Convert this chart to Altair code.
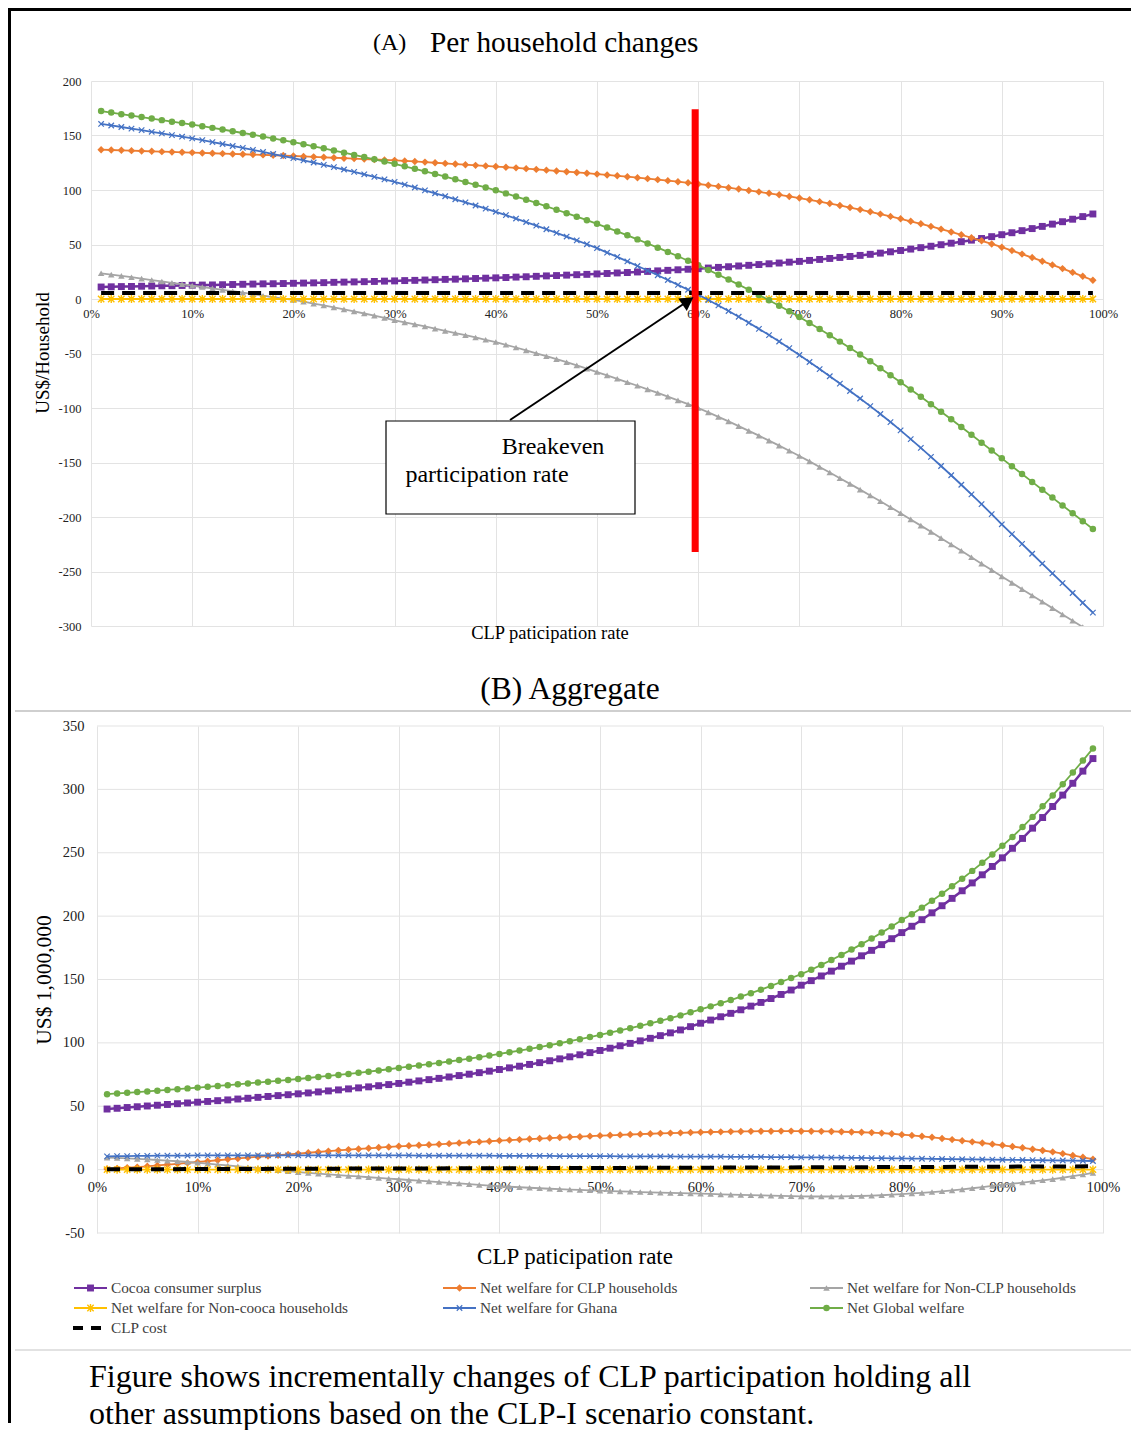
import altair as alt
import pandas as pd

SERIF = "Liberation Serif"

SERIES = [
    "Cocoa consumer surplus",
    "Net welfare for CLP households",
    "Net welfare for Non-CLP households",
    "Net welfare for Non-cooca households",
    "Net welfare for Ghana",
    "Net Global welfare",
    "CLP cost",
]
COLORS = ["#7030A0", "#ED7D31", "#A5A5A5", "#FFC000", "#4472C4", "#70AD47", "#000000"]

rates = list(range(1, 100))
x_ticks = list(range(0, 101, 10))
a_yticks = list(range(-300, 201, 50))
b_yticks = list(range(-50, 351, 50))

# ---------------- (A) Per household changes, US$/household ----------------
a_cocoa = [
    11.0, 11.2, 11.4, 11.5, 11.7, 11.9, 12.1, 12.2, 12.4, 12.6,
    12.8, 12.9, 13.1, 13.3, 13.5, 13.7, 13.9, 14.0, 14.2, 14.4,
    14.6, 14.8, 15.0, 15.3, 15.5, 15.7, 15.9, 16.1, 16.4, 16.6,
    16.9, 17.1, 17.4, 17.7, 18.0, 18.2, 18.5, 18.8, 19.1, 19.4,
    19.7, 20.1, 20.4, 20.8, 21.2, 21.5, 21.9, 22.3, 22.6, 23.0,
    23.4, 23.9, 24.3, 24.8, 25.3, 25.8, 26.3, 26.8, 27.3, 27.8,
    28.4, 29.0, 29.6, 30.3, 30.9, 31.6, 32.3, 33.0, 33.8, 34.5,
    35.4, 36.3, 37.2, 38.1, 39.0, 40.0, 41.0, 42.1, 43.3, 44.5,
    45.8, 47.1, 48.4, 49.8, 51.2, 52.6, 54.0, 55.5, 57.2, 59.0,
    60.8, 62.7, 64.6, 66.6, 68.7, 70.9, 73.2, 75.6, 78.0]
a_clp = [
    137.0, 136.7, 136.4, 136.1, 135.8, 135.5, 135.2, 134.9, 134.6, 134.3,
    134.0, 133.7, 133.4, 133.1, 132.8, 132.5, 132.2, 131.9, 131.6, 131.2,
    130.8, 130.4, 130.0, 129.6, 129.2, 128.8, 128.4, 128.0, 127.6, 127.2,
    126.7, 126.2, 125.6, 125.0, 124.4, 123.8, 123.2, 122.6, 122.1, 121.5,
    120.9, 120.3, 119.6, 118.9, 118.2, 117.5, 116.8, 116.1, 115.4, 114.6,
    113.8, 113.0, 112.2, 111.3, 110.4, 109.5, 108.6, 107.6, 106.6, 105.5,
    104.4, 103.3, 102.1, 100.9, 99.6, 98.3, 97.0, 95.6, 94.1, 92.6,
    91.0, 89.3, 87.6, 85.8, 83.9, 82.0, 80.0, 77.9, 75.8, 73.6,
    71.3, 69.0, 66.6, 64.1, 61.5, 58.9, 56.2, 53.4, 50.5, 47.5,
    44.4, 41.2, 38.0, 34.7, 31.3, 27.9, 24.4, 20.8, 17.2]
a_nonclp = [
    23.6, 22.4, 21.2, 20.0, 18.7, 17.4, 16.1, 14.8, 13.6, 12.3,
    11.0, 9.7, 8.4, 7.1, 5.8, 4.4, 3.0, 1.6, 0.3, -0.9,
    -2.5, -4.2, -5.9, -7.7, -9.5, -11.4, -13.3, -15.3, -17.4, -19.5,
    -21.4, -23.3, -25.2, -27.2, -29.2, -31.2, -33.2, -35.3, -37.4, -39.5,
    -42.0, -44.5, -47.1, -49.8, -52.5, -55.2, -58.0, -60.9, -63.9, -67.0,
    -70.1, -73.2, -76.4, -79.6, -82.9, -86.2, -89.6, -93.0, -96.5, -100.0,
    -104.0, -108.1, -112.3, -116.6, -121.0, -125.4, -129.9, -134.5, -139.2, -144.0,
    -149.0, -154.1, -159.2, -164.4, -169.6, -174.9, -180.2, -185.6, -191.0, -196.5,
    -202.2, -207.9, -213.6, -219.4, -225.2, -231.0, -236.9, -242.8, -248.7, -254.6,
    -260.4, -266.2, -272.0, -277.8, -283.6, -289.4, -295.2, -301.0, -306.8]
a_noncocoa = [
    0, 0, 0, 0, 0, 0, 0, 0, 0, 0,
    0, 0, 0, 0, 0, 0, 0, 0, 0, 0,
    0, 0, 0, 0, 0, 0, 0, 0, 0, 0,
    0, 0, 0, 0, 0, 0, 0, 0, 0, 0,
    0, 0, 0, 0, 0, 0, 0, 0, 0, 0,
    0, 0, 0, 0, 0, 0, 0, 0, 0, 0,
    0, 0, 0, 0, 0, 0, 0, 0, 0, 0,
    0, 0, 0, 0, 0, 0, 0, 0, 0, 0,
    0, 0, 0, 0, 0, 0, 0, 0, 0, 0,
    0, 0, 0, 0, 0, 0, 0, 0, 0]
a_ghana = [
    160.6, 159.2, 157.8, 156.3, 154.9, 153.4, 151.9, 150.4, 148.9, 147.4,
    145.7, 144.0, 142.2, 140.4, 138.6, 136.8, 134.9, 133.0, 131.1, 129.2,
    127.2, 125.2, 123.1, 121.0, 118.8, 116.6, 114.4, 112.1, 109.8, 107.5,
    104.9, 102.3, 99.7, 97.0, 94.3, 91.5, 88.7, 85.8, 82.9, 80.0,
    76.9, 73.8, 70.6, 67.3, 64.0, 60.7, 57.3, 53.8, 50.2, 46.6,
    42.6, 38.6, 34.5, 30.3, 26.1, 21.8, 17.4, 13.0, 8.5, 4.0,
    -0.9, -5.9, -11.0, -16.3, -21.8, -27.4, -33.1, -39.0, -45.1, -51.4,
    -57.8, -64.3, -70.9, -77.6, -84.4, -91.3, -98.3, -105.5, -112.9, -120.5,
    -128.5, -136.6, -144.8, -153.2, -161.7, -170.4, -179.2, -188.2, -197.4, -206.7,
    -215.7, -224.7, -233.7, -242.7, -251.7, -260.7, -269.7, -278.7, -287.7]
a_global = [
    172.4, 171.0, 169.6, 168.3, 166.9, 165.5, 164.1, 162.7, 161.4, 160.0,
    158.5, 157.0, 155.5, 153.9, 152.3, 150.7, 149.0, 147.3, 145.6, 143.9,
    142.0, 140.1, 138.2, 136.2, 134.2, 132.2, 130.2, 128.2, 126.1, 124.0,
    121.7, 119.4, 117.1, 114.7, 112.3, 109.8, 107.3, 104.8, 102.3, 99.7,
    96.9, 94.0, 91.1, 88.1, 85.0, 81.9, 78.7, 75.5, 72.3, 69.0,
    65.5, 62.0, 58.4, 54.7, 50.9, 47.1, 43.2, 39.2, 35.1, 31.0,
    26.7, 22.3, 17.8, 13.2, 8.5, 3.7, -1.2, -6.2, -11.3, -16.5,
    -22.0, -27.6, -33.3, -39.1, -45.0, -51.0, -57.2, -63.5, -69.9, -76.4,
    -83.0, -89.7, -96.5, -103.4, -110.4, -117.5, -124.6, -131.8, -139.0, -146.2,
    -153.4, -160.6, -167.8, -175.0, -182.2, -189.4, -196.6, -203.8, -211.0]
a_cost_rates = [1, 99]
a_cost = [5.5, 5.5]

breakeven_rate = [59.7]
breakeven_top = [174]
breakeven_bottom = [-232]

# ---------------- (B) Aggregate, US$ 1,000,000 ----------------
b_cocoa = [
    47.8, 48.4, 49.0, 49.6, 50.2, 50.8, 51.4, 52.0, 52.6, 53.2,
    53.8, 54.4, 55.0, 55.7, 56.3, 57.0, 57.7, 58.4, 59.1, 59.8,
    60.5, 61.3, 62.1, 62.9, 63.7, 64.5, 65.3, 66.2, 67.1, 68.0,
    69.0, 70.0, 71.0, 72.0, 73.1, 74.2, 75.3, 76.5, 77.7, 79.0,
    80.3, 81.6, 83.0, 84.4, 85.9, 87.4, 89.0, 90.6, 92.3, 94.0,
    95.8, 97.7, 99.6, 101.6, 103.6, 105.7, 107.9, 110.2, 112.8, 115.5,
    118.0, 120.6, 123.3, 126.1, 129.0, 131.9, 135.0, 138.2, 141.7, 145.5,
    149.1, 152.8, 156.6, 160.5, 164.5, 168.7, 173.0, 177.5, 182.2, 187.0,
    192.0, 197.2, 202.6, 208.2, 214.0, 220.0, 226.2, 232.6, 239.2, 246.0,
    253.5, 261.3, 269.4, 277.8, 286.5, 295.5, 304.8, 314.4, 324.3]
b_clp = [
    0.5, 1.0, 1.5, 2.0, 2.6, 3.3, 4.0, 4.6, 5.3, 6.0,
    6.7, 7.4, 8.1, 8.8, 9.5, 10.1, 10.7, 11.4, 12.0, 12.6,
    13.3, 13.9, 14.6, 15.2, 15.8, 16.3, 16.8, 17.4, 17.9, 18.4,
    18.8, 19.2, 19.6, 20.0, 20.5, 21.0, 21.5, 21.9, 22.4, 22.9,
    23.3, 23.7, 24.1, 24.5, 24.9, 25.3, 25.7, 26.0, 26.4, 26.8,
    27.1, 27.4, 27.7, 28.0, 28.3, 28.6, 28.8, 29.0, 29.3, 29.5,
    29.7, 29.8, 30.0, 30.1, 30.2, 30.3, 30.3, 30.4, 30.4, 30.3,
    30.3, 30.2, 30.1, 29.9, 29.7, 29.5, 29.2, 28.8, 28.3, 27.6,
    27.0, 26.3, 25.5, 24.6, 23.7, 22.8, 21.9, 21.0, 20.1, 19.2,
    18.2, 17.2, 16.1, 15.1, 14.0, 12.6, 11.2, 9.7, 8.2]
b_nonclp = [
    9.5, 9.2, 8.9, 8.5, 8.1, 7.6, 7.1, 6.6, 6.0, 5.4,
    4.7, 4.0, 3.3, 2.6, 1.9, 1.2, 0.4, -0.4, -1.2, -2.0,
    -2.6, -3.2, -3.8, -4.3, -4.9, -5.4, -6.0, -6.5, -7.1, -7.6,
    -8.2, -8.7, -9.3, -9.8, -10.4, -10.9, -11.4, -12.0, -12.6, -13.1,
    -13.5, -13.9, -14.3, -14.7, -15.1, -15.4, -15.7, -16.0, -16.3, -16.6,
    -16.9, -17.2, -17.4, -17.7, -17.9, -18.2, -18.4, -18.6, -18.8, -19.0,
    -19.2, -19.5, -19.7, -19.9, -20.1, -20.3, -20.5, -20.7, -20.9, -21.1,
    -21.2, -21.2, -21.2, -21.1, -21.0, -20.8, -20.5, -20.2, -19.8, -19.3,
    -18.8, -18.3, -17.7, -17.1, -16.4, -15.6, -14.7, -13.8, -12.9, -12.0,
    -11.1, -10.2, -9.3, -8.4, -7.5, -6.4, -5.2, -3.9, -2.6]
b_noncocoa = [
    0, 0, 0, 0, 0, 0, 0, 0, 0, 0,
    0, 0, 0, 0, 0, 0, 0, 0, 0, 0,
    0, 0, 0, 0, 0, 0, 0, 0, 0, 0,
    0, 0, 0, 0, 0, 0, 0, 0, 0, 0,
    0, 0, 0, 0, 0, 0, 0, 0, 0, 0,
    0, 0, 0, 0, 0, 0, 0, 0, 0, 0,
    0, 0, 0, 0, 0, 0, 0, 0, 0, 0,
    0, 0, 0, 0, 0, 0, 0, 0, 0, 0,
    0, 0, 0, 0, 0, 0, 0, 0, 0, 0,
    0, 0, 0, 0, 0, 0, 0, 0, 0]
b_ghana = [
    10.5, 10.6, 10.7, 10.8, 10.9, 11.0, 11.0, 11.1, 11.1, 11.2,
    11.2, 11.2, 11.3, 11.3, 11.3, 11.3, 11.3, 11.3, 11.3, 11.3,
    11.3, 11.3, 11.3, 11.3, 11.3, 11.2, 11.2, 11.2, 11.2, 11.2,
    11.2, 11.1, 11.1, 11.1, 11.1, 11.0, 11.0, 11.0, 11.0, 10.9,
    10.9, 10.9, 10.8, 10.8, 10.8, 10.7, 10.7, 10.7, 10.6, 10.6,
    10.6, 10.5, 10.5, 10.5, 10.4, 10.4, 10.4, 10.3, 10.3, 10.3,
    10.2, 10.2, 10.1, 10.1, 10.0, 10.0, 9.9, 9.9, 9.8, 9.7,
    9.7, 9.6, 9.5, 9.4, 9.3, 9.2, 9.1, 9.0, 8.9, 8.8,
    8.7, 8.6, 8.5, 8.4, 8.3, 8.2, 8.1, 8.0, 7.9, 7.8,
    7.7, 7.6, 7.5, 7.4, 7.3, 7.2, 7.1, 7.0, 6.8]
b_global = [
    59.5, 60.1, 60.6, 61.2, 61.7, 62.3, 62.9, 63.5, 64.1, 64.7,
    65.3, 66.0, 66.6, 67.3, 68.0, 68.7, 69.4, 70.1, 70.8, 71.5,
    72.3, 73.1, 73.9, 74.7, 75.5, 76.4, 77.3, 78.2, 79.2, 80.2,
    81.2, 82.2, 83.2, 84.2, 85.3, 86.4, 87.5, 88.7, 90.0, 91.3,
    92.6, 93.9, 95.3, 96.7, 98.2, 99.7, 101.3, 102.9, 104.6, 106.3,
    108.0, 109.8, 111.6, 113.5, 115.4, 117.4, 119.5, 121.7, 124.1, 126.5,
    128.8, 131.3, 133.8, 136.5, 139.2, 142.0, 144.9, 148.0, 151.2, 154.2,
    157.7, 161.5, 165.4, 169.4, 173.6, 177.9, 182.4, 187.0, 191.9, 197.0,
    201.5, 206.7, 212.1, 217.7, 223.5, 229.5, 235.7, 242.1, 248.7, 255.5,
    262.5, 270.3, 278.3, 286.6, 295.2, 304.1, 313.3, 322.7, 332.3]
b_cost_rates = [1, 25, 50, 75, 99]
b_cost = [0.2, 0.8, 1.3, 1.9, 2.6]

# ---------------- styling ----------------
XPATH = "M-1,-1L1,1M-1,1L1,-1"
STAR = "M-1,-1L1,1M-1,1L1,-1M0,-1.3L0,1.3"
MARK = {
    SERIES[0]: dict(shape="square", filled=True, size=48),
    SERIES[1]: dict(shape="diamond", filled=True, size=55),
    SERIES[2]: dict(shape="triangle-up", filled=True, size=42),
    SERIES[3]: dict(shape=STAR, filled=False, size=40, strokeWidth=1.4),
    SERIES[4]: dict(shape=XPATH, filled=False, size=30, strokeWidth=1.2),
    SERIES[5]: dict(shape="circle", filled=True, size=42),
}
LINEW = {SERIES[0]: 2.5}
GRID = "#e3e3e3"
LABEL = "#222222"
cscale = alt.Scale(domain=SERIES, range=COLORS)
one = pd.DataFrame({"k": [0]})


def text(t, x, y, size, align="center", angle=None, color="black"):
    kw = dict(text=t, font=SERIF, fontSize=size, align=align, baseline="middle", color=color)
    if angle is not None:
        kw["angle"] = angle
    return alt.Chart(one).mark_text(**kw).encode(x=alt.value(x), y=alt.value(y))


def rect(x1, x2, y1, y2, color):
    return alt.Chart(one).mark_rect(color=color).encode(
        x=alt.value(x1), x2=alt.value(x2), y=alt.value(y1), y2=alt.value(y2))


def series_layers(data, xs, ys, xax, yax, clip, dash):
    out = []
    for name in SERIES:
        r, v = data[name]
        df = pd.DataFrame({"rate": r, "value": v, "series": name})
        enc = dict(
            x=alt.X("rate:Q", scale=xs, axis=xax),
            y=alt.Y("value:Q", scale=ys, axis=yax),
            color=alt.Color("series:N", scale=cscale, legend=None),
        )
        base = alt.Chart(df)
        if name == "CLP cost":
            out.append(base.mark_line(strokeWidth=4, strokeDash=dash, clip=clip).encode(**enc))
        else:
            out.append(base.mark_line(strokeWidth=LINEW.get(name, 1.8), clip=clip).encode(**enc))
            out.append(base.mark_point(opacity=1, clip=clip, **MARK[name]).encode(**enc))
    return out


# ---------------- chart A ----------------
WA, HA = 1012, 545
xsA = alt.Scale(domain=[0, 100], nice=False, zero=False)
ysA = alt.Scale(domain=[-300, 200], nice=False, zero=False)
xaxA = alt.Axis(values=x_ticks, labelExpr="datum.value + '%'", grid=True, gridColor=GRID,
                domain=False, ticks=False, labelFont=SERIF, labelFontSize=12.5, labelColor=LABEL,
                labelPadding=8, offset=-327, title=None, labelOverlap=False, labelFlush=False)
yaxA = alt.Axis(values=a_yticks, labelExpr="'' + datum.value", grid=True, gridColor=GRID,
                domain=False, ticks=False, labelFont=SERIF, labelFontSize=12.5, labelColor=LABEL,
                labelPadding=10, title=None, labelOverlap=False)

dataA = {
    SERIES[0]: (rates, a_cocoa),
    SERIES[1]: (rates, a_clp),
    SERIES[2]: (rates, a_nonclp),
    SERIES[3]: (rates, a_noncocoa),
    SERIES[4]: (rates, a_ghana),
    SERIES[5]: (rates, a_global),
    SERIES[6]: (a_cost_rates, a_cost),
}
layersA = series_layers(dataA, xsA, ysA, xaxA, yaxA, True, [13, 8])

be = pd.DataFrame({"rate": breakeven_rate, "top": breakeven_top, "bottom": breakeven_bottom})
red = alt.Chart(be).mark_rule(color="#FF0000", strokeWidth=7).encode(
    x=alt.X("rate:Q", scale=xsA, axis=xaxA),
    y=alt.Y("top:Q", scale=ysA, axis=yaxA),
    y2="bottom:Q",
)
arrow = alt.Chart(one).mark_rule(color="black", strokeWidth=2).encode(
    x=alt.value(419), y=alt.value(339), x2=alt.value(597), y2=alt.value(220))
head = alt.Chart(one).mark_point(shape="triangle-up", filled=True, color="black", opacity=1,
                                 size=230, angle=56).encode(x=alt.value(597), y=alt.value(220))
annot_box = alt.Chart(one).mark_rect(fill="white", stroke="black", strokeWidth=1.2).encode(
    x=alt.value(295), x2=alt.value(544), y=alt.value(340), y2=alt.value(433))

decoA = [
    rect(-83, 1040, -73, -70, "black"),
    rect(-83, -80, -73, 1342, "black"),
    text("(A)", 282, -38, 24, align="left"),
    text("Per household changes", 339, -38, 29.3, align="left"),
    text("US$/Household", -48, 272, 19, angle=270),
    text("CLP paticipation rate", 459, 552, 18.5),
    red,
    annot_box,
    arrow,
    head,
    text("Breakeven", 462, 366, 24),
    text("participation rate", 396, 394, 24),
]
A = alt.layer(*layersA, *decoA).properties(width=WA, height=HA)

# ---------------- chart B ----------------
WB, HB = 1012, 507
xsB = alt.Scale(domain=[0, 100], range=[6, 1012], nice=False, zero=False)
ysB = alt.Scale(domain=[-50, 350], nice=False, zero=False)
xaxB = alt.Axis(values=x_ticks, labelExpr="datum.value + '%'", grid=True, gridColor=GRID,
                domain=False, ticks=False, labelFont=SERIF, labelFontSize=14.5, labelColor=LABEL,
                labelPadding=10, offset=-63, title=None, labelOverlap=False, labelFlush=False)
yaxB = alt.Axis(values=b_yticks, labelExpr="'' + datum.value", grid=False, domain=False,
                ticks=False, labelFont=SERIF, labelFontSize=14.5, labelColor=LABEL, labelPadding=7,
                title=None, labelOverlap=False)

ygridB = alt.Chart(pd.DataFrame({"v": b_yticks})).mark_rule(color=GRID, strokeWidth=1).encode(
    y=alt.Y("v:Q", scale=ysB, axis=yaxB), x=alt.value(6), x2=alt.value(1012))

dataB = {
    SERIES[0]: (rates, b_cocoa),
    SERIES[1]: (rates, b_clp),
    SERIES[2]: (rates, b_nonclp),
    SERIES[3]: (rates, b_noncocoa),
    SERIES[4]: (rates, b_ghana),
    SERIES[5]: (rates, b_global),
    SERIES[6]: (b_cost_rates, b_cost),
}
layersB = series_layers(dataB, xsB, ysB, xaxB, yaxB, False, [13, 9])

legend_cols = [-17, 352, 719]
legend_rows = [562, 582, 602]
legend = []
for i, name in enumerate(SERIES):
    x1 = legend_cols[i % 3]
    y = legend_rows[i // 3]
    if name == "CLP cost":
        legend.append(alt.Chart(one).mark_rule(color=COLORS[i], strokeWidth=4, strokeDash=[10, 8]).encode(
            x=alt.value(x1 - 1), x2=alt.value(x1 + 33), y=alt.value(y)))
    else:
        legend.append(alt.Chart(one).mark_rule(color=COLORS[i], strokeWidth=2).encode(
            x=alt.value(x1), x2=alt.value(x1 + 33), y=alt.value(y)))
        legend.append(alt.Chart(one).mark_point(color=COLORS[i], opacity=1, **MARK[name]).encode(
            x=alt.value(x1 + 16.5), y=alt.value(y)))
    legend.append(text(name, x1 + 37, y, 15.3, align="left", color="#404040"))

decoB = [
    rect(-76, 1040, -16, -14, "#cfcfcf"),
    text("(B) Aggregate", 479, -36, 31.5),
    text("US$ 1,000,000", -46, 254, 21.5, angle=270),
    text("CLP paticipation rate", 484, 531, 23),
    *legend,
    rect(-76, 1040, 623, 625, "#e2e2e2"),
    text("Figure shows incrementally changes of CLP participation holding all", -2, 651, 32, align="left"),
    text("other assumptions based on the CLP-I scenario constant.", -2, 688, 32, align="left"),
]
B = alt.layer(ygridB, *layersB, *decoB).properties(width=WB, height=HB)

chart = (
    alt.vconcat(A, B, spacing=100, bounds="flush")
    .properties(padding=0, background="white", autosize=alt.AutoSizeParams(type="pad"))
    .configure_view(stroke=None)
)
chart.save("out.html", embed_options={"renderer": "svg", "actions": False})
